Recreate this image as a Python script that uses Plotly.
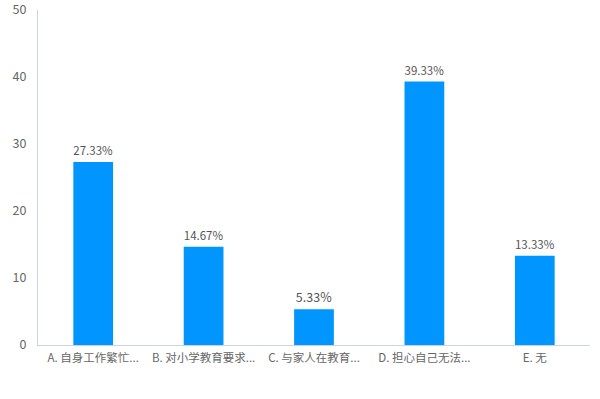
import plotly.graph_objects as go

categories = ["A. 自身工作繁忙...", "B. 对小学教育要求...", "C. 与家人在教育...", "D. 担心自己无法...", "E. 无"]
values = [27.33, 14.67, 5.33, 39.33, 13.33]
labels = [f"{v:.2f}%" for v in values]
y_ticks = [0, 10, 20, 30, 40, 50]

fig = go.Figure(go.Bar(
    x=categories, y=values, text=labels, textposition="outside",
    marker=dict(color="#0095FF", line=dict(width=0)),
    textfont=dict(color="#555555", size=12.5, family="Noto Sans CJK SC"),
    width=0.36, cliponaxis=False,
))
fig.update_layout(
    width=600, height=399,
    margin=dict(l=38, r=10, t=10, b=54, autoexpand=False),
    plot_bgcolor="white", paper_bgcolor="white",
    showlegend=False,
    font=dict(family="Noto Sans CJK SC", size=12, color="#666666"),
    xaxis=dict(showline=True, linecolor="#C8D3E6", linewidth=1, showgrid=False,
               ticks="", ticklabelstandoff=2,
               tickfont=dict(size=11.5, color="#666666")),
    yaxis=dict(range=[0, 50], autorange=False, tickvals=y_ticks, showline=True,
               linecolor="#C8D3E6", linewidth=1, showgrid=False, zeroline=False,
               ticks="", ticklabelstandoff=8, ticklabeloverflow="allow",
               tickfont=dict(size=12.5, color="#666666")),
)
fig.write_html("out.html", config={"displayModeBar": False},
               post_script="document.body.style.margin='0';")
